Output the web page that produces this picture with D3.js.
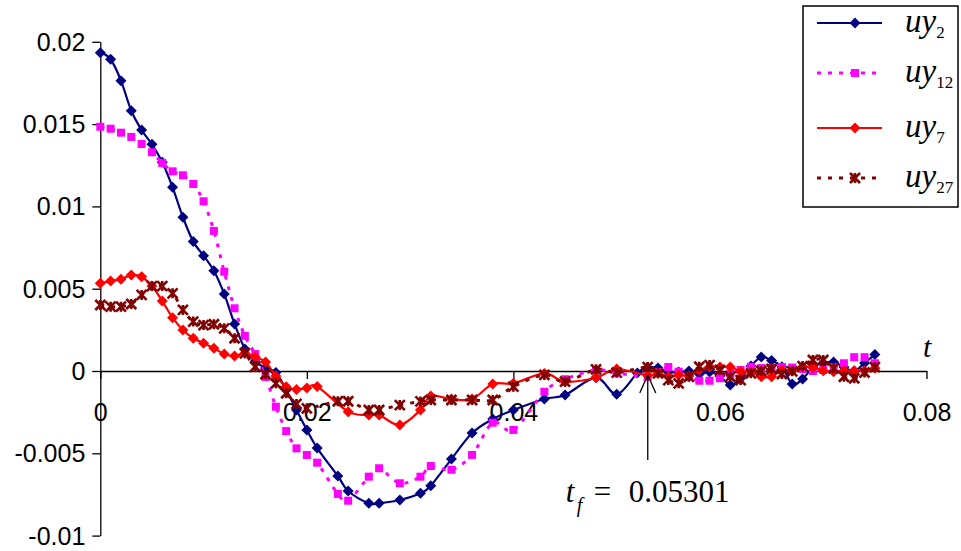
<!DOCTYPE html>
<html>
<head>
<meta charset="utf-8">
<script src="https://cdn.jsdelivr.net/npm/d3@7"></script>
<style>
  html, body { margin: 0; padding: 0; background: #fff; }
  svg { display: block; }
  .tick text { font-family: "Liberation Sans", Arial, sans-serif; font-size: 25px; fill: #000; }
</style>
</head>
<body>
<svg id="chart" width="961" height="551"></svg>
<script>
// Time samples (s) shared by all four displacement series
const times = [
  0, 0.001, 0.002, 0.003, 0.004, 0.005, 0.006, 0.007, 0.008, 0.009, 0.010,
  0.011, 0.012, 0.013, 0.014, 0.015, 0.016, 0.017, 0.018, 0.019, 0.020, 0.021,
  0.023, 0.024, 0.026, 0.027, 0.029, 0.031, 0.032, 0.034, 0.036, 0.038, 0.040,
  0.043, 0.045, 0.048, 0.050, 0.052,
  0.053, 0.054, 0.055, 0.056, 0.057, 0.058, 0.059, 0.060, 0.061, 0.062, 0.063,
  0.064, 0.065, 0.066, 0.067, 0.068, 0.069, 0.070, 0.071, 0.072, 0.073, 0.074, 0.075
];

// uy2
const uy2 = [
  0.01934, 0.01894, 0.01764, 0.01581, 0.01464, 0.01377, 0.01268, 0.01116, 0.00934, 0.00786, 0.00700,
  0.00609, 0.00468, 0.00286, 0.00134, 0.00057, 0.00018, -0.00009, -0.00115, -0.00237, -0.00358, -0.00468,
  -0.00638, -0.00729, -0.00804, -0.00804, -0.00784, -0.00743, -0.00697, -0.00535, -0.00377, -0.00292, -0.00237,
  -0.00170, -0.00146, -0.00040, -0.00142, -0.00012,
  0.00022, 0.00018, -0.00006, -0.00006, 0.00000, -0.00018, -0.00006, -0.00030, -0.00085, -0.00044, 0.00030,
  0.00085, 0.00064, 0.00026, -0.00079, -0.00049, 0.00024, 0.00049, 0.00055, 0.00024, 0.00000, 0.00049, 0.00100
];

// uy12
const uy12 = [
  0.01484, 0.01472, 0.01448, 0.01422, 0.01379, 0.01329, 0.01264, 0.01213, 0.01189, 0.01136, 0.01031,
  0.00851, 0.00603, 0.00381, 0.00213, 0.00103, -0.00036, -0.00217, -0.00365, -0.00470, -0.00510, -0.00557,
  -0.00747, -0.00788, -0.00642, -0.00591, -0.00682, -0.00642, -0.00577, -0.00600, -0.00510, -0.00314, -0.00358,
  -0.00126, -0.00050, 0.00006, -0.00012, null,
  -0.00035, -0.00006, 0.00024, -0.00004, -0.00036, -0.00059, -0.00059, -0.00044, -0.00018, 0.00006, 0.00026,
  0.00018, 0.00018, 0.00024, 0.00021, 0.00012, 0.00000, 0.00006, 0.00024, 0.00047, 0.00084, 0.00084, 0.00047
];

// uy7
const uy7 = [
  0.00533, 0.00547, 0.00557, 0.00583, 0.00573, 0.00516, 0.00425, 0.00324, 0.00249, 0.00199, 0.00168,
  0.00138, 0.00103, 0.00091, 0.00108, 0.00085, 0.00055, -0.00030, -0.00095, -0.00112, -0.00103, -0.00094,
  null, -0.00247, -0.00267, -0.00267, -0.00328, -0.00237, -0.00152, -0.00170, -0.00170, -0.00079, -0.00075,
  -0.00015, -0.00065, -0.00041, 0.00012, null,
  -0.00027, -0.00014, -0.00035, -0.00024, -0.00030, 0.00006, 0.00026, 0.00024, 0.00024, -0.00003, -0.00006,
  -0.00035, -0.00035, 0.00006, 0.00002, 0.00026, 0.00022, 0.00002, -0.00004, 0.00002, 0.00002, 0.00002, 0.00016
];

// uy27
const uy27 = [
  0.00401, 0.00391, 0.00391, 0.00407, 0.00462, 0.00516, 0.00516, 0.00472, 0.00371, 0.00300, 0.00279,
  0.00284, 0.00259, 0.00199, 0.00108, 0.00026, -0.00020, -0.00075, -0.00135, -0.00200, -0.00227, null,
  -0.00184, -0.00184, -0.00237, -0.00237, -0.00207, -0.00185, -0.00176, -0.00176, -0.00176, -0.00176, -0.00095,
  -0.00024, -0.00065, 0.00010, -0.00010, null,
  0.00024, -0.00014, -0.00055, -0.00075, -0.00035, 0.00026, 0.00036, 0.00006, -0.00035, -0.00055, -0.00014,
  0.00000, 0.00012, -0.00018, -0.00002, 0.00030, 0.00067, 0.00067, 0.00016, -0.00035, -0.00044, -0.00009, 0.00024
];

const xTickValues = [0, 0.02, 0.04, 0.06, 0.08];
const xTickLabels = ["0", "0.02", "0.04", "0.06", "0.08"];
const yTickValues = [0.02, 0.015, 0.01, 0.005, 0, -0.005, -0.01];
const yTickLabels = ["0.02", "0.015", "0.01", "0.005", "0", "-0.005", "-0.01"];

const seriesNames = ["2", "12", "7", "27"];
const finalTime = 0.05301;

const series = [
  { sub: seriesNames[0], values: uy2,  color: "#000080", dash: null,  width: 2.2, marker: "diamond" },
  { sub: seriesNames[1], values: uy12, color: "#FF00FF", dash: "4,7", width: 3,   marker: "square" },
  { sub: seriesNames[2], values: uy7,  color: "#FF0000", dash: null,  width: 2.2, marker: "diamond" },
  { sub: seriesNames[3], values: uy27, color: "#800000", dash: "4,7", width: 3,   marker: "star" }
];

const svg = d3.select("#chart");
svg.append("rect").attr("width", 961).attr("height", 551).attr("fill", "#fff");

const x = d3.scaleLinear().domain([0, 0.08]).range([100.3, 926.5]);
const y = d3.scaleLinear().domain([-0.01, 0.02]).range([535.6, 41.8]);

// Axes
const yAxis = d3.axisLeft(y)
  .tickValues(yTickValues)
  .tickFormat((d, i) => yTickLabels[i])
  .tickSize(8).tickSizeOuter(0).tickPadding(7);
const gy = svg.append("g").attr("transform", `translate(${x(0)},0)`).call(yAxis);
gy.selectAll("path, line").attr("stroke", "#000").attr("stroke-width", 1.3);
gy.selectAll("text").attr("dy", "0.34em");

const xAxis = d3.axisBottom(x)
  .tickValues(xTickValues)
  .tickFormat((d, i) => xTickLabels[i])
  .tickSize(8).tickSizeOuter(0);
const gx = svg.append("g").attr("transform", `translate(0,${y(0)})`).call(xAxis);
gx.selectAll("path, line").attr("stroke", "#000").attr("stroke-width", 1.3);
gx.selectAll("text").attr("y", 50).attr("dy", 0);

// Marker shapes
function markerPath(kind, r) {
  if (kind === "diamond") return `M0,${-r}L${r},0L0,${r}L${-r},0Z`;
  if (kind === "square") return `M${-r},${-r}H${r}V${r}H${-r}Z`;
  // star: diagonal cross with a vertical stroke
  return `M${-r},${-r}L${r},${r}M${r},${-r}L${-r},${r}M0,${-r}V${r}`;
}

function drawMarker(g, kind, color) {
  if (kind === "star") {
    g.append("path").attr("d", markerPath(kind, 5))
      .attr("fill", "none").attr("stroke", color).attr("stroke-width", 2.6);
  } else if (kind === "square") {
    g.append("path").attr("d", markerPath(kind, 4)).attr("fill", color);
  } else {
    g.append("path").attr("d", markerPath(kind, 5.5)).attr("fill", color);
  }
}

const line = d3.line()
  .x(d => x(d.t))
  .y(d => y(d.v))
  .curve(d3.curveCardinal.tension(0));

series.forEach(s => {
  const pts = times.map((t, i) => ({ t, v: s.values[i] })).filter(d => d.v !== null);
  const g = svg.append("g");
  g.append("path")
    .attr("d", line(pts))
    .attr("fill", "none")
    .attr("stroke", s.color)
    .attr("stroke-width", s.width)
    .attr("stroke-dasharray", s.dash);
  pts.forEach(d => {
    const m = g.append("g").attr("transform", `translate(${x(d.t)},${y(d.v)})`);
    drawMarker(m, s.marker, s.color);
  });
});

// Axis variable name
svg.append("text")
  .attr("x", 923).attr("y", 357)
  .attr("font-family", "Liberation Serif, Times New Roman, serif")
  .attr("font-style", "italic").attr("font-size", 30)
  .text("t");

// Legend
const legend = svg.append("g");
legend.append("rect")
  .attr("x", 803).attr("y", 6).attr("width", 155).attr("height", 201)
  .attr("fill", "#fff").attr("stroke", "#000").attr("stroke-width", 1.5);
const rowY = [23, 73, 128, 178];
series.forEach((s, i) => {
  const ry = rowY[i];
  legend.append("line")
    .attr("x1", 817).attr("x2", 882).attr("y1", ry).attr("y2", ry)
    .attr("stroke", s.color).attr("stroke-width", s.width)
    .attr("stroke-dasharray", s.dash);
  const m = legend.append("g").attr("transform", `translate(855,${ry})`);
  drawMarker(m, s.marker, s.color);
  const t = legend.append("text")
    .attr("x", 905).attr("y", ry + 9)
    .attr("font-family", "Liberation Serif, Times New Roman, serif")
    .attr("font-size", 33);
  t.append("tspan").attr("font-style", "italic").text("uy");
  t.append("tspan").attr("font-size", 17).attr("dy", 6).text(s.sub);
});

// Final-time annotation
const ax = x(finalTime);
const ann = svg.append("g").attr("stroke", "#000").attr("stroke-width", 1.3).attr("fill", "none");
ann.append("line").attr("x1", ax).attr("x2", ax).attr("y1", 460).attr("y2", y(0) + 4);
ann.append("path").attr("d", `M${ax - 8},${y(0) + 22}L${ax},${y(0) + 4}L${ax + 8},${y(0) + 22}`);

const labFont = "Liberation Serif, Times New Roman, serif";
const lab = svg.append("g").attr("font-family", labFont).attr("font-size", 31);
lab.append("text").attr("x", ax - 82).attr("y", 502).attr("font-style", "italic").text("t");
lab.append("text").attr("x", ax - 71).attr("y", 512).attr("font-style", "italic").attr("font-size", 20).text("f");
lab.append("text").attr("x", ax - 54).attr("y", 502).text("=");
lab.append("text").attr("x", ax - 19).attr("y", 502).text(String(finalTime));
</script>
</body>
</html>
